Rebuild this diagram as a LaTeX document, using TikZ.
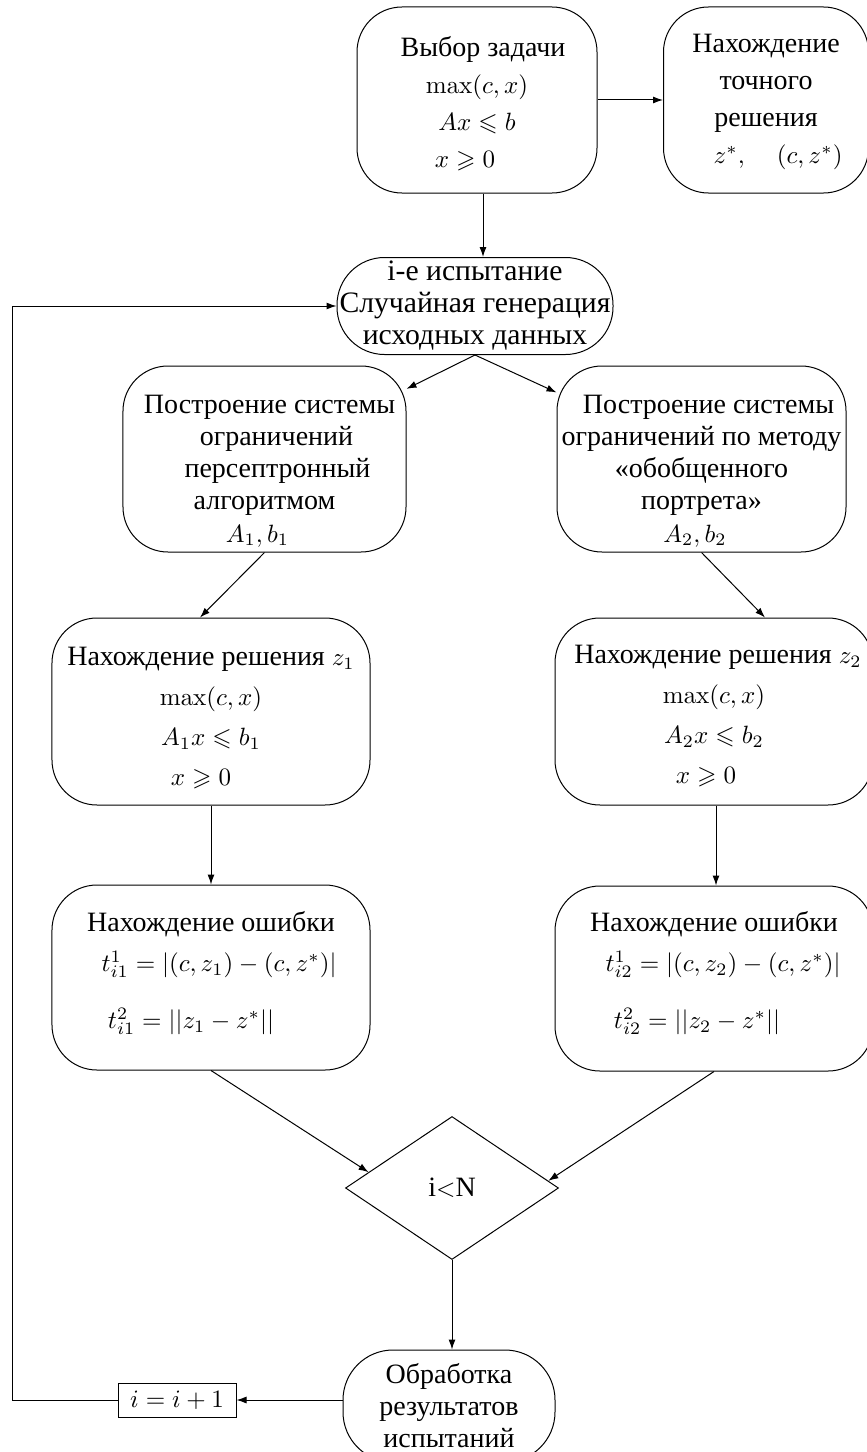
\documentclass[tikz,border=0pt]{standalone}
\usepackage{amsmath,amssymb}
\usepackage[no-math]{fontspec}
\setmainfont{Liberation Serif}[Scale=1.12]
\usetikzlibrary{shapes.geometric,arrows.meta,calc}
\newcommand{\hl}[1]{\hspace*{#1}}
\begin{document}
\begin{tikzpicture}[x=0.4pt,y=-0.4pt,
  box/.style={draw, rounded corners=18pt, align=center, inner sep=1pt},
  txt/.style={align=center, inner sep=0pt},
  arr/.style={-{Latex[length=4pt,width=2.8pt]}}]
\useasboundingbox (0,0) rectangle (866,1452);
% boxes and their texts
\node[box, minimum width=96pt, minimum height=74.4pt] (A) at (477,100) {};
\node[txt, font=\fontsize{10}{14.8}\selectfont] (At) at (477,104)
  {\hl{4.8pt}Выбор задачи\\ $\max(c,x)$\\ $Ax\leqslant b$\hl{9.6pt}\\ $x\geqslant 0$\hl{9.6pt}};
\node[box, minimum width=82pt, minimum height=74.4pt] (B) at (766,100) {};
\node[txt, font=\fontsize{10}{14.8}\selectfont] (Bt) at (766,102)
  {Нахождение\\ точного\hl{12.8pt}\\ решения\hl{12.8pt}\\ \hl{9.6pt}$z^*,\quad (c,z^*)$};
\node[box, rounded corners=19pt, minimum width=110.4pt, minimum height=38.8pt] (C) at (475,306) {};
\node[txt, font=\fontsize{10.6}{12.8}\selectfont] (Ct) at (475,306)
  {i-е испытание\\ Случайная генерация\\ исходных данных};
\node[box, minimum width=113.2pt, minimum height=74.4pt] (D) at (264.5,459) {};
\node[txt, font=\fontsize{10}{12.9}\selectfont] (Dt) at (264.5,471)
  {\hl{4pt}Построение системы\\ \hl{9.6pt}ограничений\\ \hl{10.4pt}персептронный\\ алгоритмом\\ $A_1,b_1$\hl{5.6pt}};
\node[box, minimum width=115.6pt, minimum height=74.4pt] (E) at (701.5,459) {};
\node[txt, font=\fontsize{10}{12.9}\selectfont] (Et) at (701.5,471)
  {\hl{5.6pt}Построение системы\\ ограничений по методу\\ «обобщенного\hl{4pt}\\ портрета»\hl{6.4pt}\\ $A_2,b_2$\hl{5.2pt}};
\node[box, minimum width=127.2pt, minimum height=74.8pt] (F) at (211,711.5) {};
\node[txt, font=\fontsize{10}{16}\selectfont] (Ft) at (211,718)
  {Нахождение решения $z_1$\\ $\max(c,x)$\\ $A_1x\leqslant b_1$\\ $x\geqslant 0$\hl{8pt}};
\node[box, minimum width=127.2pt, minimum height=74.8pt] (G) at (714,711.5) {};
\node[txt, font=\fontsize{10}{16}\selectfont] (Gt) at (714,716)
  {\hl{3.2pt}Нахождение решения $z_2$\\ $\max(c,x)$\\ $A_2x\leqslant b_2$\\ $x\geqslant 0$\hl{6.4pt}};
\node[box, minimum width=127.2pt, minimum height=74pt] (H) at (211,977.5) {};
\node[txt, font=\fontsize{10}{16}\selectfont] (Ht) at (211,973)
  {Нахождение ошибки\\ \hl{6.4pt}$t^1_{i1}=|(c,z_1)-(c,z^*)|$\\[6.8pt] $t^2_{i1}=||z_1-z^*||$\hl{16pt}};
\node[box, minimum width=127.2pt, minimum height=74pt] (I) at (714,978.5) {};
\node[txt, font=\fontsize{10}{16}\selectfont] (It) at (714,973)
  {Нахождение ошибки\\ \hl{7.2pt}$t^1_{i2}=|(c,z_2)-(c,z^*)|$\\[6.8pt] $t^2_{i2}=||z_2-z^*||$\hl{13.6pt}};
\node[draw, diamond, inner sep=0pt, minimum width=85.2pt, minimum height=57.2pt, font=\fontsize{10}{12}\selectfont] (J) at (452,1188) {i$<$N};
\node[box, rounded corners=20pt, minimum width=84.8pt, minimum height=44.8pt, font=\fontsize{10}{12.8}\selectfont] (K) at (449,1406)
  {Обработка\\ результатов\\ испытаний};
\node[draw, inner sep=2pt, minimum width=47.2pt, minimum height=13.6pt] (L) at (177,1400) {$i=i+1$};
\coordinate (lc1) at (12,1400);
% connectors
\draw[arr] (A.east) -- (B.west);
\draw[arr] ([xshift=2.4pt]A.south) -- ([xshift=2.4pt]A.south |- C.north);
\draw[arr] (C.south) -- (D);
\draw[arr] (C.south) -- (E);
\draw[arr] (D.south) -- ([xshift=-4.4pt]F.north);
\draw[arr] (E.south) -- ([xshift=20.4pt]G.north);
\draw[arr] (F.south) -- (H.north);
\draw[arr] ([xshift=0.8pt]G.south) -- ([xshift=0.8pt]G.south |- I.north);
\draw[arr] (H.south) -- ($(J.west)!0.22!(J.north)$);
\draw[arr] (I.south) -- ($(J.east)!0.1!(J.north)$);
\draw[arr] (J.south) -- (J.south |- K.north);
\draw[arr] (L.east -| K.west) -- (L.east);
\draw[arr] (L.west) -- (lc1) |- (C.west);
\end{tikzpicture}
\end{document}
